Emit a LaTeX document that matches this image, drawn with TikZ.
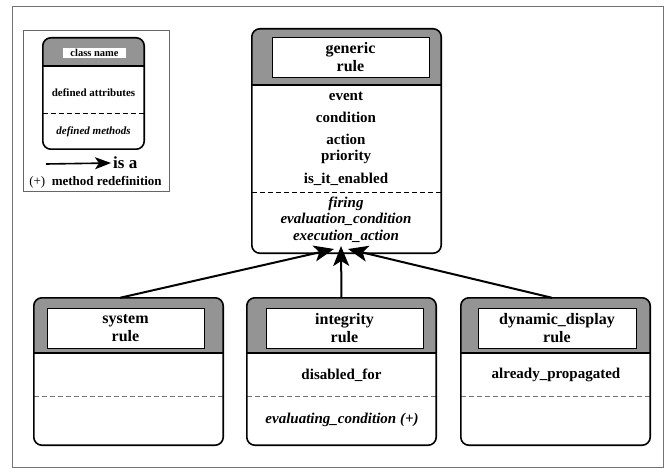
\documentclass[tikz,border=0pt]{standalone}
\usepackage{fontspec}
\setmainfont{Liberation Serif}
\usetikzlibrary{arrows.meta}

\newcommand{\fs}[1]{\fontsize{#1}{#1}\selectfont\bfseries}

% grey header of a rule box, thick line under it, frame on top
\newcommand{\rulehead}[2]{
    \begin{scope}
        \clip[rounded corners=8pt] (#1.south west) rectangle (#1.north east);
        \fill[black!42] (#1.north west) rectangle (#1.east |- 0,#2);
    \end{scope}
    \draw[line width=1.6pt] (#1.west |- 0,#2) -- (#1.east |- 0,#2);
    \draw[line width=1.6pt, rounded corners=8pt] (#1.south west) rectangle (#1.north east);
}

\tikzset{
  rulebox/.style={fill=white, rounded corners=8pt, inner sep=0pt},
  rulename/.style={draw, line width=0.8pt, fill=white, align=center, inner sep=0pt,
    font=\fontsize{16}{18}\selectfont\bfseries, minimum width=157pt, minimum height=40pt},
  attr/.style={font=\fs{15}, inner sep=0pt},
  meth/.style={font=\fs{15}\itshape, inner sep=0pt},
  sep/.style={line width=0.8pt, dash pattern=on 5pt off 3pt},
  isa/.style={line width=2pt, -{Stealth[length=20pt,width=16pt,inset=5pt]}}
}

\begin{document}
\begin{tikzpicture}[x=1pt, y=-1pt]
    \useasboundingbox (0,0) rectangle (664,468);
    \draw[black!55, line width=1pt] (12,7) rectangle (663,467);

    % legend
    \draw[black!60, line width=0.8pt] (23,30) rectangle (169,191);
    \node[rulebox, minimum width=101pt, minimum height=111pt] (legend) at (93.5,93.5) {};
    \draw[sep, line width=0.7pt] (legend.west |- 0,113) -- (legend.east |- 0,113);
    \rulehead{legend}{66}
    \node[fill=white, inner sep=0pt, minimum width=63pt, minimum height=10pt, font=\fs{10.5}] (legend-name) at (94.5,53) {class name};
    \node[font=\fs{11}, inner sep=0pt] (legend-attr) at (93.5,93) {defined attributes};
    \node[font=\fs{11}\itshape, inner sep=0pt] (legend-meth) at (93.5,132) {defined methods};
    \coordinate (legend-from) at (46,164);
    \node[font=\fs{17}, inner sep=2pt, anchor=west] (legend-isa) at (111,163) {is a};
    \draw[line width=1.6pt, -{Stealth[length=16pt,width=12pt,inset=4pt]}] (legend-from) -- (legend-isa.west);
    \node[font=\fs{13}, inner sep=0pt] (legend-redef) at (95.5,182) {{\mdseries(+)}\ \ method redefinition};

    % generic rule
    \node[rulebox, minimum width=189pt, minimum height=224pt] (generic) at (346.5,141) {};
    \draw[sep] (generic.west |- 0,192) -- (generic.east |- 0,192);
    \rulehead{generic}{85}
    \node[rulename] (generic-name) at (350.5,57) {generic\\rule};
    \node[attr] (event) at (346,96) {event};
    \node[attr] (condition) at (346,117) {condition};
    \node[attr] (action) at (346,139) {action};
    \node[attr] (priority) at (346,157) {priority};
    \node[attr] (enabled) at (346,179) {is\_it\_enabled};
    \node[meth] (firing) at (346,204) {firing};
    \node[meth] (evaluation) at (346,219) {evaluation\_condition};
    \node[meth] (execution) at (346,236) {execution\_action};

    % system rule
    \node[rulebox, minimum width=189pt, minimum height=147pt] (system) at (128.5,371.5) {};
    \draw[sep, black!55] (system.west |- 0,396) -- (system.east |- 0,396);
    \rulehead{system}{353}
    \node[rulename] (system-name) at (125.5,328) {system\\rule};

    % integrity rule
    \node[rulebox, minimum width=189pt, minimum height=147pt] (integrity) at (341.5,371.5) {};
    \draw[sep, black!55] (integrity.west |- 0,396) -- (integrity.east |- 0,396);
    \rulehead{integrity}{353}
    \node[rulename] (integrity-name) at (344.5,328) {integrity\\rule};
    \node[attr] (disabled) at (341.5,375) {disabled\_for};
    \node[meth] (evaluating) at (342,420) {evaluating\_condition (+)};

    % dynamic display rule
    \node[rulebox, minimum width=189pt, minimum height=147pt] (dynamic) at (555.5,371.5) {};
    \draw[sep, black!55] (dynamic.west |- 0,396) -- (dynamic.east |- 0,396);
    \rulehead{dynamic}{353}
    \node[rulename, minimum width=158pt] (dynamic-name) at (557,328) {dynamic\_display\\rule};
    \node[attr] (propagated) at (556,375) {already\_propagated};

    % is-a arrows
    \coordinate (tip-l) at (334,249);
    \coordinate (tip-c) at (341,246);
    \coordinate (tip-r) at (348,249);
    \draw[isa] ([xshift=-8.5pt]system.north) -- (tip-l);
    \draw[isa] (integrity.north) -- (tip-c);
    \draw[isa] ([xshift=-3.5pt]dynamic.north) -- (tip-r);
\end{tikzpicture}
\end{document}
